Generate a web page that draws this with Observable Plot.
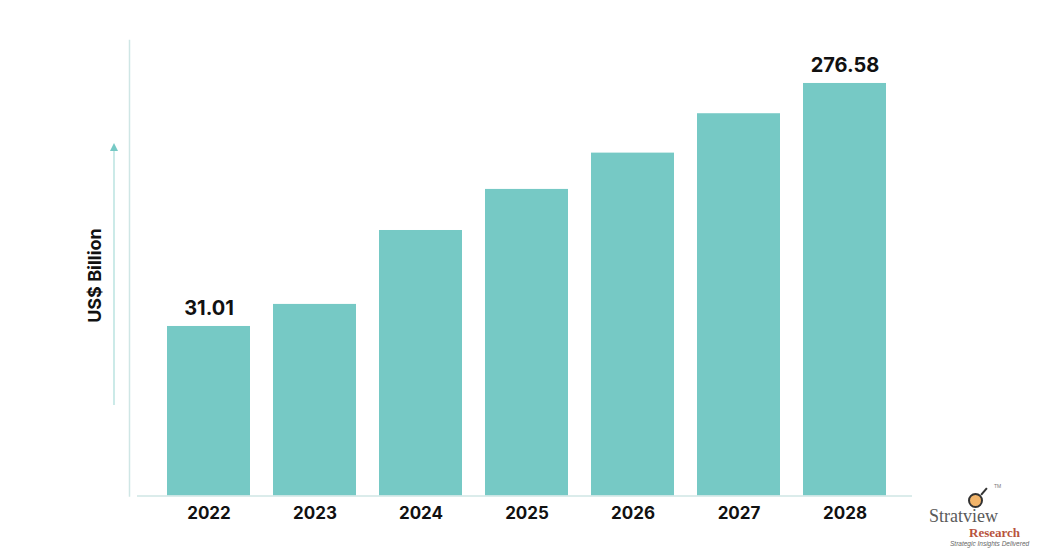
<!DOCTYPE html>
<html>
<head>
<meta charset="utf-8">
<script src="https://cdn.jsdelivr.net/npm/d3@7"></script>
<script src="https://cdn.jsdelivr.net/npm/@observablehq/plot@0.6"></script>
<style>
  html, body { margin: 0; padding: 0; background: #fff; }
  #wrap { position: relative; width: 1056px; height: 560px; }
  .logo { position: absolute; left: 924px; top: 492px; width: 110px; font-family: "Liberation Serif", "DejaVu Serif", serif; }
  .logo div { line-height: 1; white-space: nowrap; }
  .logo .s { position: absolute; left: 5px; top: 15px; font-size: 18px; line-height: 18px; color: #5a5a5a; }
  .logo .tm { position: absolute; left: 70px; top: -8px; font-size: 5px; line-height: 5px; color: #777; font-family: "Liberation Sans", sans-serif; }
  .logo .r { position: absolute; left: 45px; top: 34px; font-size: 13px; line-height: 13px; font-weight: bold; color: #b8533d; }
  .logo .t { position: absolute; left: 26px; top: 48px; font-size: 6.5px; line-height: 7px; font-style: italic; color: #666; font-family: "Liberation Sans", sans-serif; }
  .logo .ico { position: absolute; left: 44px; top: 1px; width: 11px; height: 11px; border: 2px solid #333; border-radius: 50%; background: #f2b56b; }
  .logo .h { position: absolute; left: 59px; top: -5px; width: 2px; height: 9px; background: #333; transform: rotate(40deg); }
</style>
</head>
<body>
<div id="wrap"></div>
<script>
const years = ["2022", "2023", "2024", "2025", "2026", "2027", "2028"];
const values = [31.01, 53.3, 128.0, 169.5, 206.2, 246.0, 276.58];
const labelYears = ["2022", "2028"];
const yAxisLabel = "US$ Billion";
const yMin = -140.3;
const yMax = 320;

const data = years.map((year, i) => ({year, value: values[i]}));
const labelled = data.filter(d => labelYears.includes(d.year));

const font = "Inter, 'Open Sans', sans-serif";
const lineColor = "#cfe6e5";
const barColor = "#76c9c5";

const chart = Plot.plot({
  width: 1056,
  height: 560,
  marginLeft: 129,
  marginRight: 144,
  marginTop: 40,
  marginBottom: 64.5,
  style: {fontFamily: font, background: "#fff"},
  x: {domain: years, padding: 0.217, insetLeft: 14, insetRight: 3, label: null},
  y: {domain: [yMin, yMax], axis: null},
  marks: [
    Plot.frame({anchor: "left", stroke: lineColor, strokeWidth: 1.5, strokeOpacity: 1}),
    Plot.barY(data, {x: "year", y1: yMin, y2: "value", fill: barColor}),
    Plot.ruleY([yMin], {stroke: lineColor, strokeWidth: 1.5, insetLeft: 8}),
    Plot.text(labelled, {x: "year", y: "value", text: d => d.value.toFixed(2), lineAnchor: "bottom", dy: -11, fontSize: 20, fontWeight: 700, fill: "#111"}),
    Plot.axisX({tickSize: 0, tickPadding: 11, fontSize: 17, fontWeight: 700, color: "#111", label: null}),
    Plot.text([yAxisLabel], {frameAnchor: "left", y: [82.5], text: d => d, rotate: -90, dx: -34, fontSize: 18, fontWeight: 700, fill: "#111", textAnchor: "middle"})
  ]
});

// decorative arrow along the y axis, positioned through the y scale
const ys = chart.scale("y");
const svg = d3.select(chart);
const ax = 114;
const yBottom = ys.apply(-48.8);
const yTop = ys.apply(215.9);
svg.append("line").attr("x1", ax).attr("x2", ax).attr("y1", yBottom).attr("y2", yTop + 6)
  .attr("stroke", "#a9dcd9").attr("stroke-width", 1.2);
svg.append("path").attr("d", `M${ax - 4},${yTop + 8} L${ax + 4},${yTop + 8} L${ax},${yTop} Z`).attr("fill", barColor);

const wrap = document.getElementById("wrap");
wrap.appendChild(chart);
const logo = document.createElement("div");
logo.className = "logo";
logo.innerHTML = '<div class="ico"></div><div class="h"></div><div class="s">Stratview</div><div class="tm">TM</div><div class="r">Research</div><div class="t">Strategic Insights Delivered</div>';
wrap.appendChild(logo);
</script>
</body>
</html>
